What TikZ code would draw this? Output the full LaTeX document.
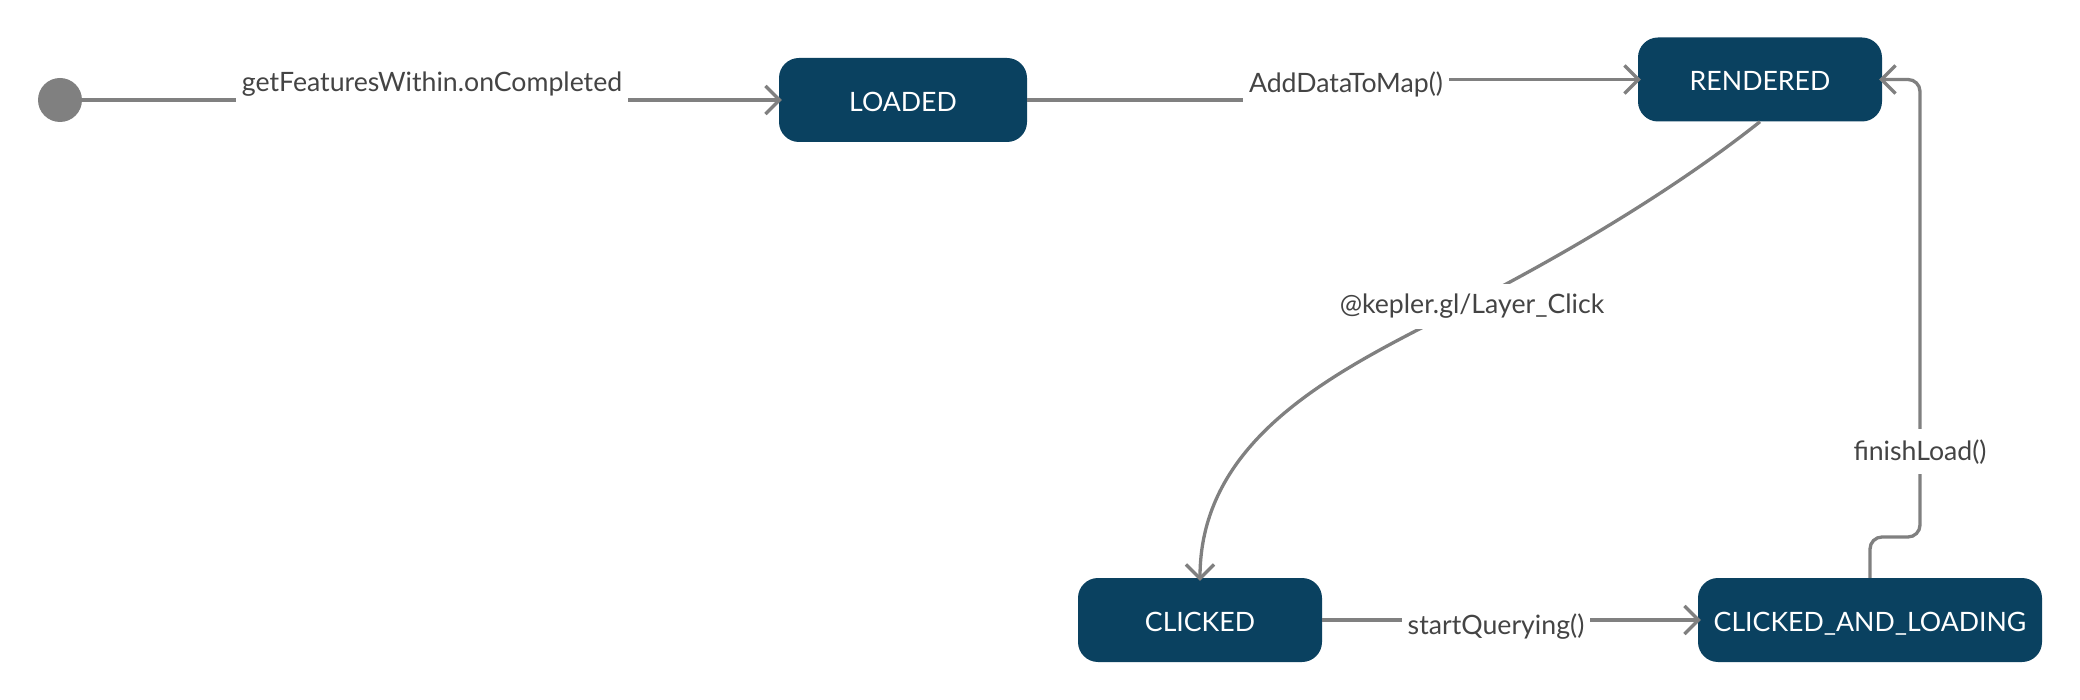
\documentclass[tikz,border=0pt]{standalone}
\usepackage{fontspec}
\setmainfont{Lato}
\usetikzlibrary{arrows.meta}
\definecolor{nodeblue}{RGB}{10,65,96}
\definecolor{edgegray}{RGB}{128,128,128}
\definecolor{labelgray}{RGB}{68,68,68}
\begin{document}
\begin{tikzpicture}[x=1pt,y=-1pt,
  state/.style={draw=none, fill=nodeblue, rounded corners=20pt, minimum height=84pt, text=white, font=\fontsize{26.67}{32}\selectfont, inner sep=0pt, text height=23pt, text depth=0pt},
  edge/.style={draw=edgegray, line width=3.3pt, shorten >=-3pt, -{Straight Barb[length=14pt,width=28pt]}},
  lbl/.style={fill=white, text=labelgray, font=\fontsize{26.67}{32}\selectfont, inner xsep=6pt, inner ysep=10pt, anchor=base}
]
\useasboundingbox (0,0) rectangle (2080,700);
\node[circle, fill=edgegray, minimum size=44pt, inner sep=0pt] (init) at (60,100) {};
\node[state, minimum width=248pt] (loaded) at (903,100) {LOADED};
\node[state, minimum width=244pt] (rendered) at (1760,79.5) {RENDERED};
\node[state, minimum width=244pt] (clicked) at (1200,620) {CLICKED};
\node[state, minimum width=344pt] (cal) at (1870,620) {CLICKED\_AND\_LOADING};
\coordinate (step) at (1346,90);
\coordinate (mid) at (1472,302);
\coordinate (jog) at (1920,537);
\draw[edge] (init) -- (loaded);
\draw[edge] (loaded.east) -| (step) |- (rendered.west);
\draw[edge] (rendered.south) .. controls (1674,190) and (1565,254) .. (mid) .. controls (1357,362) and (1200,428) .. (clicked.north);
\draw[edge] (clicked) -- (cal);
\draw[edge, rounded corners=12pt] (cal.north) |- (jog) |- (rendered.east);
\node[lbl] (l1) at (432,92) {getFeaturesWithin.onCompleted};
\node[lbl] (l2) at (1346,93) {AddDataToMap()};
\node[lbl] (l3) at (1472,314) {@kepler.gl/Layer\_Click};
\node[lbl] (l4) at (1496,634) {startQuerying()};
\node[lbl] (l5) at (1920,460) {finishLoad()};
\end{tikzpicture}
\end{document}
